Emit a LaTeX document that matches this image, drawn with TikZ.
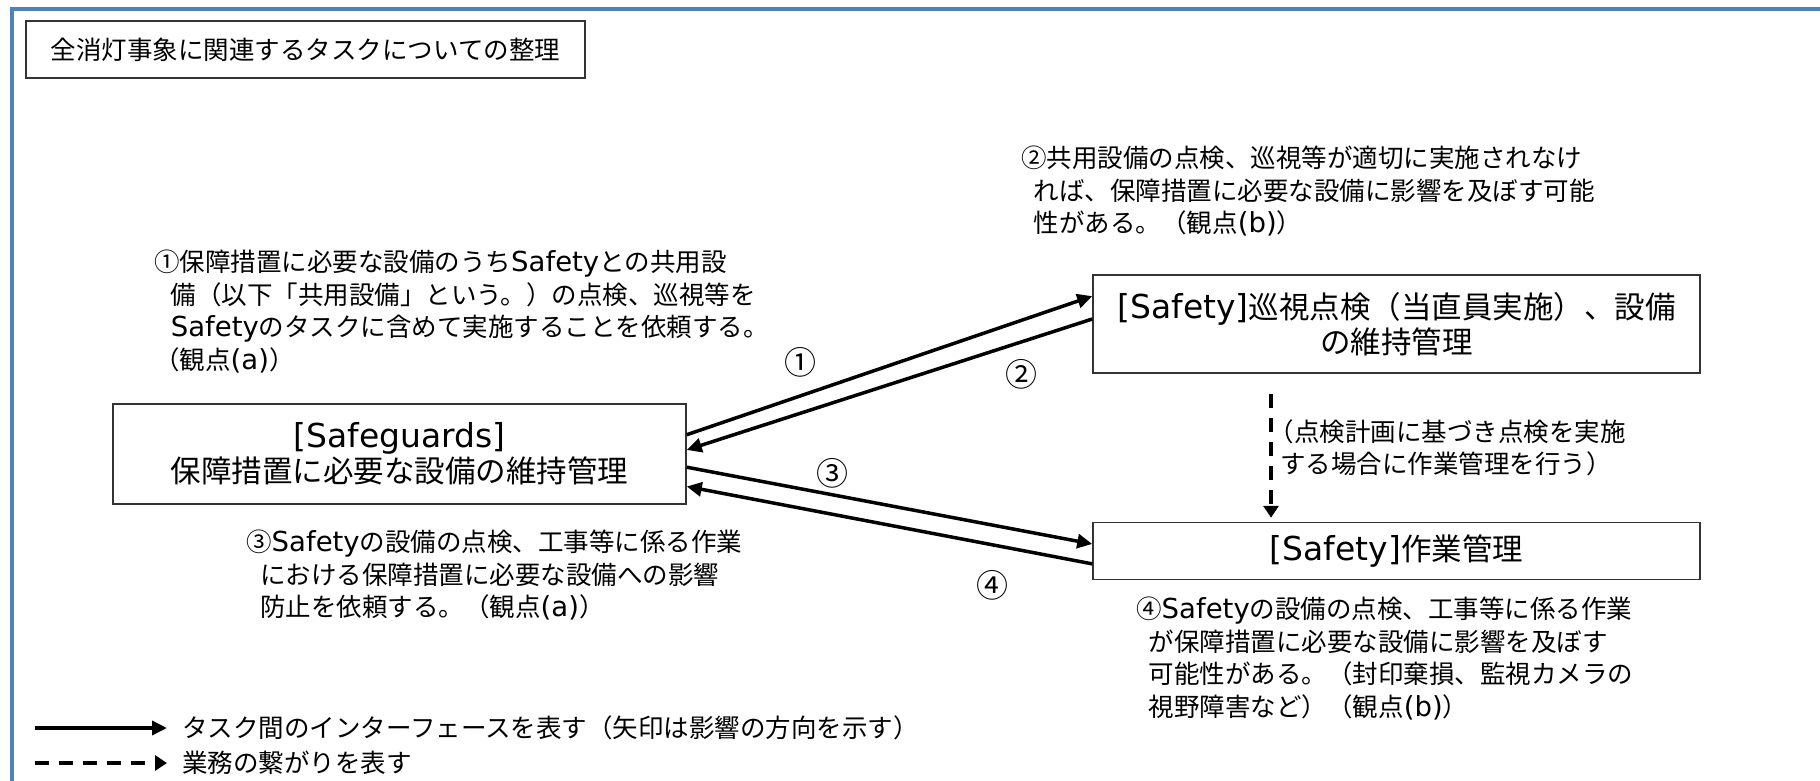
\documentclass[tikz,border=0pt]{standalone}
\usepackage{fontspec}
\setmainfont{Noto Sans CJK JP}
\newfontfamily\lat[Scale=1.08]{DejaVu Sans}
\usetikzlibrary{arrows.meta,calc}
\definecolor{frameblue}{HTML}{4F81BD}
\begin{document}
\begin{tikzpicture}[x=1pt,y=-1pt,
  box/.style={draw=black!80,line width=1.5pt,fill=white,align=center,inner sep=0pt,font=\fontsize{30.5}{35}\selectfont},
  note/.style={anchor=north west,inner sep=0pt,align=left,font=\fontsize{25.5}{32.5}\selectfont},
  lbl/.style={inner sep=0pt,font=\fontsize{32}{32}\selectfont},
  iface/.style={line width=3.5pt,-{Triangle[length=15pt,width=14pt]}},
  link/.style={line width=3.2pt,dash pattern=on 14pt off 10pt,-{Triangle[length=12pt,width=15pt]}},
  legtext/.style={anchor=west,inner sep=0pt,font=\fontsize{25.5}{30}\selectfont}]
\useasboundingbox[fill=white] (0,0) rectangle (1820,781);
\draw[frameblue,line width=4pt] (1820,9) -- (12,9) -- (12,781);

\node[box,minimum width=559pt,minimum height=57pt,font=\fontsize{25.5}{30}\selectfont] (title) at (305.5,49.5) {全消灯事象に関連するタスクについての整理};

\node[box,minimum width=573pt,minimum height=100pt] (sg) at (399.5,454) {{\lat [Safeguards]}\\保障措置に必要な設備の維持管理};
\node[box,minimum width=607pt,minimum height=98pt] (pt) at (1396.5,324) {{\lat [Safety]}巡視点検（当直員実施）、設備\\の維持管理};
\node[box,minimum width=607pt,minimum height=57pt] (wk) at (1396.5,551) {{\lat [Safety]}作業管理};

\node[note] (n1) at (154,250) {①保障措置に必要な設備のうち{\lat Safety}との共用設\\\hspace*{0.65em}備（以下「共用設備」という。）の点検、巡視等を\\\hspace*{0.65em}{\lat Safety}のタスクに含めて実施することを依頼する。\\（観点{\lat (a)}）};
\node[note] (n2) at (1021,146) {②共用設備の点検、巡視等が適切に実施されなけ\\\hspace*{0.5em}れば、保障措置に必要な設備に影響を及ぼす可能\\\hspace*{0.5em}性がある。（観点{\lat (b)}）};
\node[note] (n3) at (246,530) {③{\lat Safety}の設備の点検、工事等に係る作業\\\hspace*{0.55em}における保障措置に必要な設備への影響\\\hspace*{0.55em}防止を依頼する。（観点{\lat (a)}）};
\node[note] (n4) at (1136,597) {④{\lat Safety}の設備の点検、工事等に係る作業\\\hspace*{0.5em}が保障措置に必要な設備に影響を及ぼす\\\hspace*{0.5em}可能性がある。（封印棄損、監視カメラの\\\hspace*{0.5em}視野障害など）（観点{\lat (b)}）};
\node[note] (dl) at (1280,419) {\hspace*{-0.45em}（点検計画に基づき点検を実施\\する場合に作業管理を行う）};

\node[lbl] (c1) at (800,362) {①};
\node[lbl] (c2) at (1021,374) {②};
\node[lbl] (c3) at (832,473) {③};
\node[lbl] (c4) at (992,585) {④};

\draw[iface] ($(sg.north east)!0.31!(sg.south east)$) -- ($(pt.north west)!0.22!(pt.south west)$);
\draw[iface] ($(pt.north west)!0.45!(pt.south west)$) -- ($(sg.north east)!0.46!(sg.south east)$);
\draw[iface] ($(sg.north east)!0.63!(sg.south east)$) -- ($(wk.north west)!0.38!(wk.south west)$);
\draw[iface] ($(wk.north west)!0.72!(wk.south west)$) -- ($(sg.north east)!0.82!(sg.south east)$);
\draw[link] ([xshift=-125.5pt,yshift=-20pt]pt.south) -- ([xshift=-125.5pt,yshift=4pt]wk.north);

\coordinate (ls1) at (35,728);
\coordinate (le1) at (167,728);
\coordinate (ls2) at (35,763);
\coordinate (le2) at (167,763);
\draw[iface] (ls1) -- (le1);
\draw[link] (ls2) -- (le2);
\node[legtext] (lt1) at (182,728) {タスク間のインターフェースを表す（矢印は影響の方向を示す）};
\node[legtext] (lt2) at (182,763) {業務の繋がりを表す};
\end{tikzpicture}
\end{document}
